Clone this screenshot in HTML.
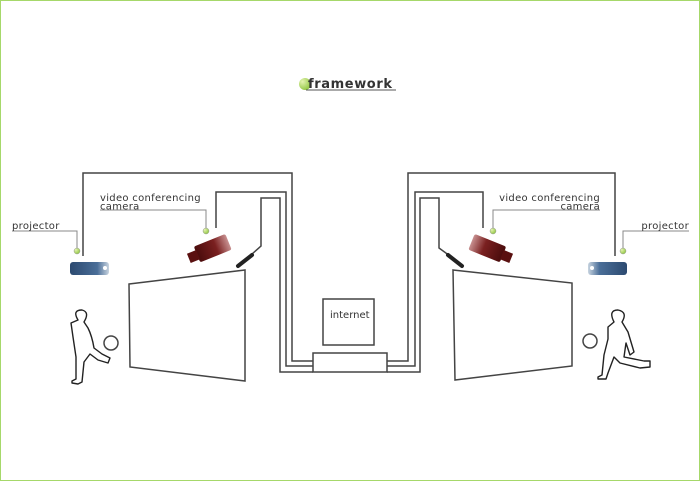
<!DOCTYPE html>
<html><head><style>
html,body{margin:0;padding:0;background:#fff;}
svg{display:block;}
text{font-family:"DejaVu Sans","Liberation Sans",sans-serif;fill:#333;}
</style></head><body>
<svg width="700" height="481" viewBox="0 0 700 481" xmlns="http://www.w3.org/2000/svg">
<defs>
<radialGradient id="g" cx="0.3" cy="0.3" r="0.8"><stop offset="0" stop-color="#e4f3b0"/><stop offset="1" stop-color="#8cc43c"/></radialGradient>
<linearGradient id="pb" x1="0" x2="1"><stop offset="0" stop-color="#2c4a70"/><stop offset="0.7" stop-color="#4a6e98"/><stop offset="1" stop-color="#c8d4e0"/></linearGradient>
<linearGradient id="cr" x1="0" x2="1"><stop offset="0" stop-color="#4a0c0c"/><stop offset="0.6" stop-color="#7a2020"/><stop offset="1" stop-color="#c89090"/></linearGradient>
</defs>
<rect x="0.5" y="0.5" width="699" height="480" fill="none" stroke="#a6d86a" stroke-width="1"/>

<circle cx="305" cy="84" r="6" fill="url(#g)"/>
<text x="308" y="88" font-size="13" font-weight="bold" letter-spacing="0.6" fill="#222">framework</text>
<line x1="306" y1="90" x2="396" y2="90" stroke="#555" stroke-width="1"/>

<g fill="none" stroke="#444" stroke-width="1.5">
<polyline points="83,256 83,173 292,173 292,361 313,361"/>
<polyline points="216,228 216,192 286,192 286,366 313,366"/>
<polyline points="252,254 261,246 261,198 280,198 280,372 313,372"/>
<polyline points="387,361 408,361 408,173 615,173 615,256"/>
<polyline points="387,366 415,366 415,192 483,192 483,228"/>
<polyline points="387,372 420,372 420,198 439,198 439,248 450,256"/>
<rect x="313" y="353" width="74" height="19" fill="#fff"/>
<rect x="323" y="299" width="51" height="46" fill="#fff"/>
<polygon points="129,284 245,270 245,381 130,367" fill="#fff"/>
<polygon points="453,270 572,283 572,366 455,380" fill="#fff"/>
<circle cx="111" cy="343" r="7"/>
<circle cx="590" cy="341" r="7"/>
</g>
<text x="330" y="318" font-size="10" fill="#222">internet</text>

<g fill="none" stroke="#888" stroke-width="1">
<polyline points="12,231 77,231 77,249"/>
<polyline points="100,210 206,210 206,229"/>
<polyline points="689,231 623,231 623,249"/>
<polyline points="600,210 493,210 493,229"/>
</g>
<text x="12" y="229" font-size="10" letter-spacing="0.3">projector</text>
<text x="100" y="201" font-size="10" letter-spacing="0.3">video conferencing</text>
<text x="100" y="209.5" font-size="10" letter-spacing="0.3">camera</text>
<text x="689" y="229" font-size="10" letter-spacing="0.3" text-anchor="end">projector</text>
<text x="600" y="201" font-size="10" letter-spacing="0.3" text-anchor="end">video conferencing</text>
<text x="600" y="209.5" font-size="10" letter-spacing="0.3" text-anchor="end">camera</text>
<circle cx="77" cy="251" r="3" fill="url(#g)" stroke="#999" stroke-width="0.5"/>
<circle cx="206" cy="231" r="3" fill="url(#g)" stroke="#999" stroke-width="0.5"/>
<circle cx="623" cy="251" r="3" fill="url(#g)" stroke="#999" stroke-width="0.5"/>
<circle cx="493" cy="231" r="3" fill="url(#g)" stroke="#999" stroke-width="0.5"/>

<rect x="70" y="262" width="39" height="13" rx="3" fill="url(#pb)"/>
<circle cx="105" cy="268" r="2" fill="#fff"/>
<rect x="588" y="262" width="39" height="13" rx="3" fill="url(#pb)" transform="rotate(180 607.5 268.5)"/>
<circle cx="592" cy="268" r="2" fill="#fff"/>

<g transform="translate(212,249) rotate(-22)">
<rect x="-16" y="-9" width="34" height="17" rx="2" fill="url(#cr)"/>
<rect x="-25" y="-5" width="10" height="10" fill="#5a1010"/>
</g>
<g transform="translate(488,249) rotate(22) scale(-1,1)">
<rect x="-16" y="-9" width="34" height="17" rx="2" fill="url(#cr)"/>
<rect x="-25" y="-5" width="10" height="10" fill="#5a1010"/>
</g>
<line x1="238" y1="266" x2="252" y2="255" stroke="#222" stroke-width="4" stroke-linecap="round"/>
<line x1="462" y1="266" x2="448" y2="255" stroke="#222" stroke-width="4" stroke-linecap="round"/>

<g fill="none" stroke="#222" stroke-width="1.4" stroke-linejoin="round">
<path d="M78,320 q-6,-10 4,-10 q8,2 2,12 l4,6 q4,8 6,20 l8,6 l8,4 -2,5 -10,-3 -8,-6 -6,8 -2,20 -4,2 -6,-1 0,-2 4,-2 0,-22 -3,-20 -2,-14 z"/>
<path d="M614,322 q-6,-12 4,-12 q10,2 4,12 l6,10 6,20 -4,3 -4,-12 -2,14 20,4 6,0 0,6 -10,1 -20,-5 -6,-6 -6,16 -2,6 -8,0 0,-2 4,-2 2,-20 4,-16 0,-12 z"/>
</g>
</svg>
</body></html>
